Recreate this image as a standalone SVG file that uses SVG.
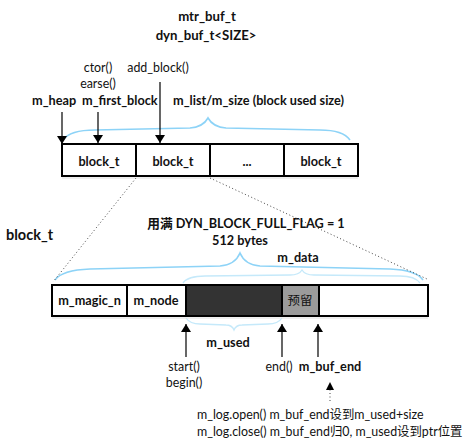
<svg xmlns="http://www.w3.org/2000/svg" width="468" height="445" viewBox="0 0 468 445">
<defs>
<style>
text{font-family:"Lato","Open Sans","Noto Sans CJK SC",sans-serif;font-size:12.4px;fill:#111}
.b{font-weight:bold;font-size:12.7px}
.t{font-weight:bold;font-size:13.2px}
.c{text-anchor:middle}
.cell{fill:#fff;stroke:#000;stroke-width:2}
.ln{stroke:#000;stroke-width:1.2;fill:none}
.dot{stroke:#444;stroke-width:1;stroke-dasharray:1 2.5;fill:none}
.br{stroke:#8dd3f7;stroke-width:1.6;fill:none}
.br2{stroke:#c5e9fa;stroke-width:1.3;fill:none}
.sh{stroke:#ddd;stroke-width:1}
</style>
<marker id="ah" viewBox="0 0 8 10" refX="8" refY="5" markerWidth="8" markerHeight="10" markerUnits="userSpaceOnUse" orient="auto">
<path d="M0,0 L8,5 L0,10 Z" fill="#000"/>
</marker>
</defs>

<g id="titles">
<text class="t c" x="207" y="21">mtr_buf_t</text>
<text class="t c" x="206" y="40">dyn_buf_t&lt;SIZE&gt;</text>
</g>

<g id="top-labels">
<text class="c" x="98" y="72">ctor()</text>
<text class="c" x="98" y="88">earse()</text>
<text class="c" x="158" y="72">add_block()</text>
<text class="b" x="32" y="105">m_heap</text>
<text class="b" x="82" y="105">m_first_block</text>
<text class="b" x="173" y="105">m_list/m_size (block used size)</text>
</g>

<g id="top-brace">
<path class="br" d="M63,140 Q70,130 95,130 L190,128 Q203,127 208,118 Q213,127 226,128 L320,130 Q343,130 350,140"/>
</g>

<g id="top-row">
<line class="sh" x1="62" y1="178" x2="358" y2="178"/>
<g id="block1"><rect class="cell" x="62" y="144" width="74" height="32"/><text class="b c" x="99" y="166">block_t</text></g>
<g id="block2"><rect class="cell" x="136" y="144" width="74" height="32"/><text class="b c" x="173" y="166">block_t</text></g>
<g id="block3"><rect class="cell" x="210" y="144" width="74" height="32"/><text class="b c" x="247" y="166">...</text></g>
<g id="block4"><rect class="cell" x="284" y="144" width="74" height="32"/><text class="b c" x="321" y="166">block_t</text></g>
</g>

<g id="block_t-label">
<text class="b" x="6" y="240" style="font-size:14.5px">block_t</text>
<text class="b c" x="246" y="228">用满 DYN_BLOCK_FULL_FLAG = 1</text>
<text class="b c" x="240" y="245">512 bytes</text>
<text class="b c" x="298" y="262">m_data</text>
</g>

<g id="bottom-braces">
<path class="br" d="M55,280 Q62,270 90,269 L220,266 Q235,265 240,253 Q245,265 260,266 L390,269 Q416,270 423,280"/>
<path class="br2" d="M183,283 Q188,276 205,276 L290,275 Q299,275 302,270 Q305,275 314,275 L400,276 Q415,276 420,283"/>
<path class="br2" d="M186,318 Q190,324 200,324 L226,325 Q232,325 234,330 Q236,325 242,325 L268,324 Q278,324 282,318"/>
</g>

<g id="bottom-row">
<line class="sh" x1="52" y1="318" x2="428" y2="318"/>
<g id="m_magic_n"><rect class="cell" x="52" y="285" width="75" height="31"/><text class="b c" x="89.5" y="305">m_magic_n</text></g>
<g id="m_node"><rect class="cell" x="127" y="285" width="59" height="31"/><text class="b c" x="156" y="305">m_node</text></g>
<g id="used"><rect class="cell" x="186" y="285" width="96" height="31" style="fill:#333"/></g>
<g id="reserved"><rect class="cell" x="282" y="285" width="37" height="31" style="fill:#9b9b9b"/><text class="c" x="300" y="305">预留</text></g>
<g id="free"><rect class="cell" x="319" y="285" width="109" height="31"/></g>
</g>

<g id="bottom-labels">
<text class="b c" x="228" y="347">m_used</text>
<text class="c" x="184" y="371">start()</text>
<text class="c" x="184" y="387">begin()</text>
<text class="c" x="279" y="371">end()</text>
<text class="b c" x="330" y="371">m_buf_end</text>
<text x="197" y="419">m_log.open() m_buf_end设到m_used+size</text>
<text x="197" y="436">m_log.close() m_buf_end归0, m_used设到ptr位置</text>
</g>

<g id="connectors">
<line class="ln" x1="62" y1="112" x2="62" y2="144" marker-end="url(#ah)"/>
<line class="ln" x1="98" y1="112" x2="98" y2="143" marker-end="url(#ah)"/>
<line class="ln" x1="160" y1="82" x2="160" y2="143" marker-end="url(#ah)"/>
<line class="dot" x1="136" y1="178" x2="53" y2="282"/>
<line class="dot" x1="210" y1="178" x2="427" y2="279"/>
<line class="ln" x1="186" y1="357" x2="186" y2="324" marker-end="url(#ah)"/>
<line class="ln" x1="282" y1="357" x2="282" y2="324" marker-end="url(#ah)"/>
<line class="ln" x1="318" y1="357" x2="318" y2="324" marker-end="url(#ah)"/>
<line class="dot" x1="330" y1="401" x2="330" y2="390"/>
<path d="M326,390 L330,382 L334,390 Z" fill="#000"/>
</g>
</svg>
